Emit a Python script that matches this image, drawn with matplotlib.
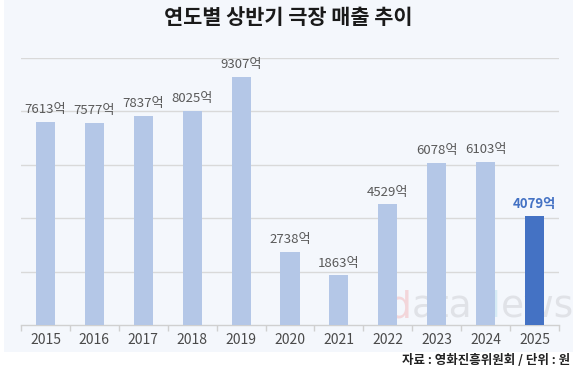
import matplotlib
matplotlib.use("Agg")
import matplotlib.pyplot as plt
from matplotlib.patches import Rectangle

plt.rcParams['font.family'] = ['Noto Sans CJK KR', 'DejaVu Sans']

years = ['2015', '2016', '2017', '2018', '2019', '2020', '2021', '2022', '2023', '2024', '2025']
sales = [7613, 7577, 7837, 8025, 9307, 2738, 1863, 4529, 6078, 6103, 4079]
labels = [f'{v}억' for v in sales]
highlight = '2025'

title = '연도별 상반기 극장 매출 추이'
source = '자료 : 영화진흥위원회 / 단위 : 원'

W, H = 580, 377
fig = plt.figure(figsize=(W / 100, H / 100), dpi=100, facecolor='white')

# light panel background
fig.patches.append(Rectangle((4 / W, 1 - 352 / H), 569 / W, 352 / H,
                             transform=fig.transFigure, facecolor='#f4f7fc',
                             edgecolor='none', zorder=-5))

# watermark (behind chart)
wm_parts = [('d', '#f3d6da'), ('ata', '#e0e2e7'), ('N', '#d6ebf5'), ('ews', '#e0e2e7')]
renderer = fig.canvas.get_renderer()
xpos = 388
for t, c in wm_parts:
    txt = fig.text(xpos / W, 1 - 317 / H, t, fontsize=27, color=c,
                   family='DejaVu Sans', ha='left', va='baseline', zorder=-4)
    bb = txt.get_window_extent(renderer=renderer)
    xpos += bb.width

ax = fig.add_axes([21 / W, 1 - 325 / H, 538 / W, 267 / H])
ax.set_facecolor('none')

x = list(range(len(years)))
colors = ['#4472c4' if y == highlight else '#b4c7e7' for y in years]
ax.bar(x, sales, width=0.39, color=colors, zorder=3)

ax.set_xlim(-0.5, len(years) - 0.5)
ax.set_ylim(0, 10000)
ax.set_yticks([2000, 4000, 6000, 8000, 10000])
ax.yaxis.grid(True, color='#d9d9d9', linewidth=1.0, zorder=0)
ax.set_axisbelow(True)
ax.tick_params(axis='y', left=False, labelleft=False)

for s in ['top', 'left', 'right']:
    ax.spines[s].set_visible(False)
ax.spines['bottom'].set_color('#d0d0d0')
ax.spines['bottom'].set_linewidth(1.0)

ax.set_xticks(x)
ax.set_xticklabels(years, fontsize=10, color='#4a4a4a')
ax.tick_params(axis='x', which='major', length=0, pad=6)
ax.set_xticks([i - 0.5 for i in range(len(years) + 1)], minor=True)
ax.tick_params(axis='x', which='minor', length=4, color='#d0d0d0', width=1)

for xi, v, lab, y in zip(x, sales, labels, years):
    hl = (y == highlight)
    ax.annotate(lab, (xi, v), xytext=(0, 4), textcoords='offset points',
                ha='center', va='bottom', fontsize=9.5,
                color='#4472c4' if hl else '#595959',
                fontweight='bold' if hl else 'normal', zorder=4)

fig.text(288 / W, 1 - 18 / H, title, fontsize=15, fontweight='bold',
         color='#1a1a1a', ha='center', va='center')
fig.text(570 / W, 1 - 360 / H, source, fontsize=9, fontweight='bold',
         color='#222222', ha='right', va='center')

fig.savefig('out.png', dpi=100, facecolor='white')
